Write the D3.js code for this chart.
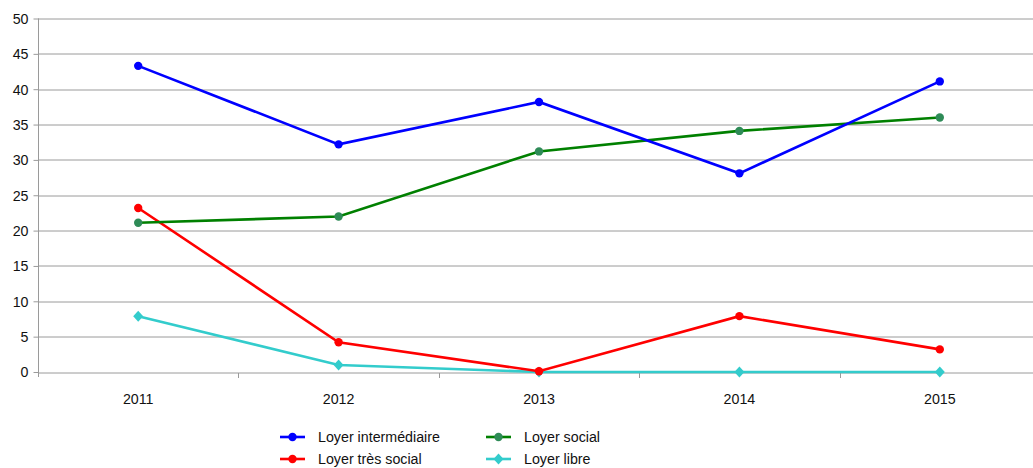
<!DOCTYPE html>
<html lang="fr">
<head>
    <meta charset="UTF-8">
    <title>Loyers</title>
    <script src="https://d3js.org/d3.v7.min.js"></script>
    <style>
        body { margin: 0; padding: 0; background: #fff; font-family: "Liberation Sans", Arial, sans-serif; }
        svg { display: block; }
        text { font-family: "Liberation Sans", Arial, sans-serif; fill: #111; }
    </style>
</head>
<body>
    <svg width="1033" height="468"></svg>
    <script>
        const years = ["2011", "2012", "2013", "2014", "2015"];
        const yTicks = [0, 5, 10, 15, 20, 25, 30, 35, 40, 45, 50];

        const intermediaire = [43.3, 32.2, 38.2, 28.1, 41.1];
        const social = [21.1, 22.0, 31.2, 34.1, 36.0];
        const tresSocial = [23.2, 4.2, 0.1, 7.9, 3.2];
        const libre = [7.9, 1.0, 0.0, 0.0, 0.0];

        const seriesNames = ["Loyer intermédiaire", "Loyer social", "Loyer très social", "Loyer libre"];

        const series = [
            { name: seriesNames[0], values: intermediaire, line: "#0000ff", marker: "#0000ff", shape: "circle" },
            { name: seriesNames[1], values: social, line: "#008000", marker: "#2e8b57", shape: "circle" },
            { name: seriesNames[2], values: tresSocial, line: "#ff0000", marker: "#ff0000", shape: "circle" },
            { name: seriesNames[3], values: libre, line: "#33cccc", marker: "#33cccc", shape: "diamond" }
        ];

        const margin = { top: 18.5, left: 38 };
        const plotW = 1002, plotH = 353.5;
        const fontSize = "15.5px";
        const squeeze = 0.92; // the reference text is a bit narrow

        const svg = d3.select("svg");
        const g = svg.append("g").attr("transform", `translate(${margin.left},${margin.top})`);

        const x = d3.scaleBand().domain(years).range([0, plotW]);
        const y = d3.scaleLinear().domain([0, 50]).range([plotH, 0]);

        // narrow a text element around its own anchor point
        function narrow(sel) {
            sel.each(function() {
                const t = d3.select(this);
                const tx = +t.attr("x") || 0;
                const ty = +t.attr("y") || 0;
                t.attr("x", 0).attr("y", 0)
                    .attr("transform", `translate(${tx},${ty}) scale(${squeeze},1)`);
            });
        }

        // gridlines
        g.selectAll(".grid")
            .data(yTicks)
            .enter()
            .append("line")
            .attr("x1", 0)
            .attr("x2", plotW)
            .attr("y1", d => Math.round(y(d)) + 0.5)
            .attr("y2", d => Math.round(y(d)) + 0.5)
            .attr("stroke", "#9a9a9a")
            .attr("stroke-width", 1);

        // y axis
        const yAxis = g.append("g")
            .attr("transform", "translate(0.5,0)")
            .call(d3.axisLeft(y).tickValues(yTicks).tickSize(5).tickPadding(5).tickSizeOuter(0));
        yAxis.select(".domain").attr("stroke", "#9a9a9a").attr("d", `M0,0V${plotH + 5}`);
        yAxis.selectAll(".tick line").attr("stroke", "#9a9a9a");
        yAxis.selectAll("text")
            .attr("fill", "#111")
            .style("font-size", fontSize)
            .style("font-family", "Liberation Sans, Arial, sans-serif")
            .call(narrow);

        // x axis: ticks at category boundaries
        const xAxis = g.append("g").attr("transform", `translate(0,${Math.round(plotH) + 0.5})`);
        xAxis.selectAll(".bnd")
            .data(years.slice(1))
            .enter()
            .append("line")
            .attr("x1", d => Math.round(x(d)) + 0.5)
            .attr("x2", d => Math.round(x(d)) + 0.5)
            .attr("y1", 0)
            .attr("y2", 5)
            .attr("stroke", "#9a9a9a");
        xAxis.selectAll("text")
            .data(years)
            .enter()
            .append("text")
            .attr("x", d => x(d) + x.bandwidth() / 2)
            .attr("y", 31)
            .attr("text-anchor", "middle")
            .style("font-size", fontSize)
            .text(d => d)
            .call(narrow);

        const line = d3.line()
            .x((d, i) => x(years[i]) + x.bandwidth() / 2)
            .y(d => y(d));

        function drawMarker(sel, shape, color, cx, cy) {
            if (shape === "diamond") {
                sel.append("path")
                    .attr("d", "M0,-5.5L5,0L0,5.5L-5,0Z")
                    .attr("transform", `translate(${cx},${cy})`)
                    .attr("fill", color);
            } else {
                sel.append("circle")
                    .attr("cx", cx)
                    .attr("cy", cy)
                    .attr("r", 4.2)
                    .attr("fill", color);
            }
        }

        // draw in reverse so that blue sits on top
        series.slice().reverse().forEach(s => {
            g.append("path")
                .datum(s.values)
                .attr("d", line)
                .attr("fill", "none")
                .attr("stroke", s.line)
                .attr("stroke-width", 2.6);
            const mg = g.append("g");
            s.values.forEach((v, i) => {
                drawMarker(mg, s.shape, s.marker, x(years[i]) + x.bandwidth() / 2, y(v));
            });
        });

        // legend
        const legendPos = [[280, 437], [486, 437], [280, 459], [486, 459]];
        series.forEach((s, i) => {
            const [lx, ly] = legendPos[i];
            const lg = svg.append("g");
            lg.append("line")
                .attr("x1", lx).attr("x2", lx + 25)
                .attr("y1", ly).attr("y2", ly)
                .attr("stroke", s.line)
                .attr("stroke-width", 2.6);
            drawMarker(lg, s.shape, s.marker, lx + 12.5, ly);
            lg.append("text")
                .attr("x", lx + 38)
                .attr("y", ly + 5)
                .style("font-size", fontSize)
                .text(s.name)
                .call(narrow);
        });
    </script>
</body>
</html>
